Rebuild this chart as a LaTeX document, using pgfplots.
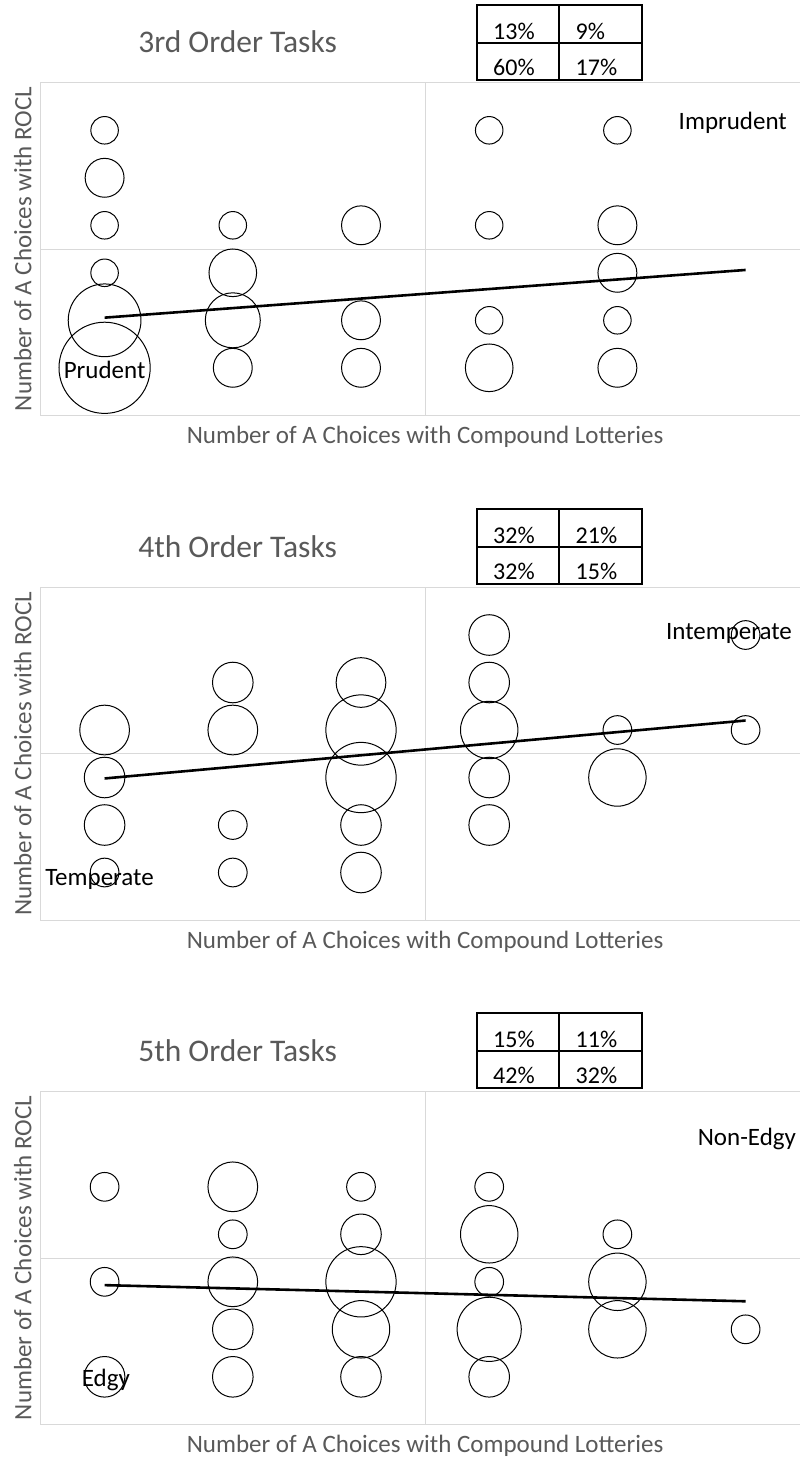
\documentclass[border=0pt]{standalone}
\usepackage{pgfplots}
\pgfplotsset{compat=1.18}
\usepackage{fontspec}
\setmainfont{Carlito}
\definecolor{txtgray}{HTML}{595959}
\definecolor{gridgray}{HTML}{D9D9D9}
\newcommand\lblfont{\fontsize{25bp}{30bp}\selectfont}
\newcommand\titlefont{\fontsize{31.5bp}{36bp}\selectfont}
\newcommand\tabfont{\fontsize{24bp}{28bp}\selectfont}
\tikzset{lab/.style={font=\lblfont, text=black, inner sep=0pt, anchor=base},
  qgrid/.style={draw=gridgray, line width=1bp}}
\pgfplotsset{
  quad/.style={
    scale only axis, width=769.2bp, height=332.5bp,
    anchor=south west,
    xmin=-0.5, xmax=5.5, ymin=-1, ymax=6,
    xtick=\empty, ytick=\empty,
    axis line style={draw=gridgray, line width=1bp},
    xlabel={Number of A Choices with Compound Lotteries},
    ylabel={Number of A Choices with ROCL},
    label style={font=\lblfont, text=txtgray, inner sep=0pt},
    xlabel style={at={(axis description cs:0.5,-0.0843)}, anchor=base},
    ylabel style={at={(axis description cs:-0.0117,0.5)}, anchor=base},
    title style={at={(axis description cs:0.2562,1.0902)}, anchor=base, yshift=-6pt, font=\titlefont, text=txtgray, inner sep=0pt},
    clip=false,
  },
  bubble/.style={
    scatter, only marks, mark=o, line width=1bp,
    scatter/use mapped color={draw=black},
    visualization depends on={#1*sqrt(\thisrow{n}) \as \rad},
    scatter/@pre marker code/.append style={/tikz/mark size=\rad bp},
  },
  trend/.style={black, line width=2.6bp, no marks},
}
\newcommand\quadgrid{%
  \draw[qgrid] (axis cs:2.5,-1) -- (axis cs:2.5,6);
  \draw[qgrid] (axis cs:-0.5,2.5) -- (axis cs:5.5,2.5);
}
\pgfplotstableread{
x y n
0 5 1
0 4 2
0 3 1
0 2 1
0 1 7
0 0 11
1 3 1
1 2 3
1 1 4
1 0 2
2 3 2
2 1 2
2 0 2
3 5 1
3 3 1
3 1 1
3 0 3
4 5 1
4 3 2
4 2 2
4 1 1
4 0 2
}\thirdorder
\pgfplotstableread{
x y n
0 3 3
0 2 2
0 1 2
0 0 1
1 4 2
1 3 3
1 1 1
1 0 1
2 4 3
2 3 6
2 2 6
2 1 2
2 0 2
3 5 2
3 4 2
3 3 4
3 2 2
3 1 2
4 3 1
4 2 4
5 5 1
5 3 1
}\fourthorder
\pgfplotstableread{
x y n
0 4 1
0 2 1
0 0 2
1 4 3
1 3 1
1 2 3
1 1 2
1 0 2
2 4 1
2 3 2
2 2 6
2 1 4
2 0 2
3 4 1
3 3 4
3 2 1
3 1 5
3 0 2
4 3 1
4 2 4
4 1 4
5 1 1
}\fifthorder
\newcommand\qtable[5]{%
  \draw[line width=2bp] (476.7,#1) rectangle (641.5,#1+74.5);
  \draw[line width=2bp] (476.7,#1+37.6) -- (641.5,#1+37.6);
  \draw[line width=2bp] (559,#1) -- (559,#1+74.5);
  \node[font=\tabfont, inner sep=0pt, anchor=base west] at (493,#1+33.8) {#2};
  \node[font=\tabfont, inner sep=0pt, anchor=base west] at (575.5,#1+33.8) {#3};
  \node[font=\tabfont, inner sep=0pt, anchor=base west] at (493,#1+70) {#4};
  \node[font=\tabfont, inner sep=0pt, anchor=base west] at (575.5,#1+70) {#5};
}
\begin{document}
\begin{tikzpicture}
\path[use as bounding box] (0,0) rectangle (800bp,-1458bp);
\clip (0,0) rectangle (800bp,-1458bp);
\begin{axis}[quad, at={(40.5bp,-415.3bp)}, title={3rd Order Tasks}]
  \quadgrid
  \addplot[bubble=13.75] table[x=x, y=y] {\thirdorder};
  \addplot[trend] coordinates {(0,1.056) (5,2.06)};
  \node[lab] at (axis cs:0,-0.224) {Prudent};
  \node[lab] at (axis cs:4.90,5.025) {Imprudent};
\end{axis}
\begin{axis}[quad, at={(40.5bp,-920bp)}, title={4th Order Tasks}]
  \quadgrid
  \addplot[bubble=14.35] table[x=x, y=y] {\fourthorder};
  \addplot[trend] coordinates {(0,1.98) (5,3.20)};
  \node[lab] at (axis cs:-0.04,-0.28) {Temperate};
  \node[lab] at (axis cs:4.87,4.90) {Intemperate};
\end{axis}
\begin{axis}[quad, at={(40.5bp,-1424.3bp)}, title={5th Order Tasks}]
  \quadgrid
  \addplot[bubble=14.35] table[x=x, y=y] {\fifthorder};
  \addplot[trend] coordinates {(0,1.93) (5,1.59)};
  \node[lab] at (axis cs:0.01,-0.21) {Edgy};
  \node[lab] at (axis cs:5.01,4.87) {Non-Edgy};
\end{axis}
\begin{scope}[x=1bp,y=-1bp]
  \qtable{5.3}{13\%}{9\%}{60\%}{17\%}
  \qtable{509.2}{32\%}{21\%}{32\%}{15\%}
  \qtable{1013.3}{15\%}{11\%}{42\%}{32\%}
\end{scope}
\end{tikzpicture}
\end{document}
